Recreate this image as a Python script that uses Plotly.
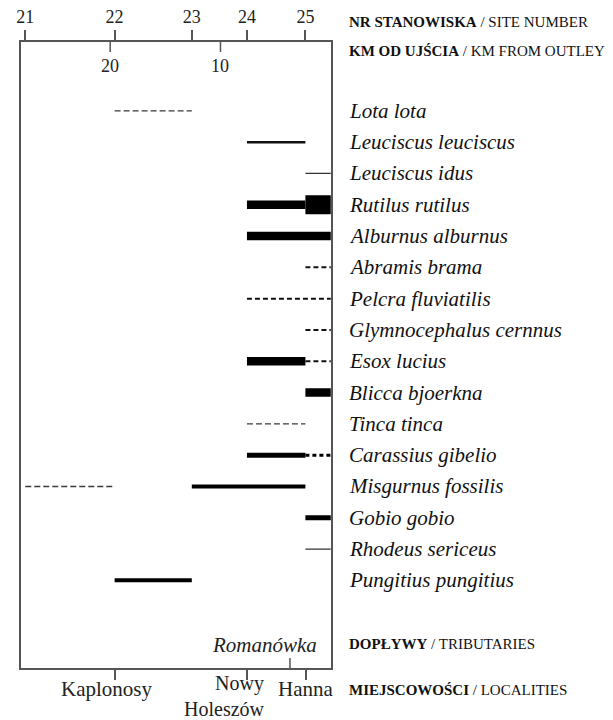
import plotly.graph_objects as go

# ---------------- data ----------------
SPECIES = [
    "Lota lota", "Leuciscus leuciscus", "Leuciscus idus", "Rutilus rutilus",
    "Alburnus alburnus", "Abramis brama", "Pelcra fluviatilis",
    "Glymnocephalus cernnus", "Esox lucius", "Blicca bjoerkna", "Tinca tinca",
    "Carassius gibelio", "Misgurnus fossilis", "Gobio gobio",
    "Rhodeus sericeus", "Pungitius pungitius",
]

SITE_NUMBERS = [21, 22, 23, 24, 25]
SITE_KM = [27.7, 19.6, 12.6, 7.6, 2.3]          # km from outlet of each site
OUTLET_KM = 0.0                                   # "U" = river mouth
KM_TICKS = [20, 10]

LOCALITIES = ["Kaplonosy", "Nowy<br>Holeszów", "Hanna"]
LOCALITY_KM = [19.55, 7.6, 2.25]
TRIBUTARY = "Romanówka"
TRIBUTARY_KM = 3.7

# segments: species, from site, to site ("U" = outlet), abundance class
SEG_SPECIES = ["Lota lota", "Leuciscus leuciscus", "Leuciscus idus",
               "Rutilus rutilus", "Rutilus rutilus", "Alburnus alburnus",
               "Abramis brama", "Pelcra fluviatilis", "Glymnocephalus cernnus",
               "Esox lucius", "Esox lucius", "Blicca bjoerkna", "Tinca tinca",
               "Carassius gibelio", "Carassius gibelio",
               "Misgurnus fossilis", "Misgurnus fossilis", "Gobio gobio",
               "Rhodeus sericeus", "Pungitius pungitius"]
SEG_FROM = [22, 24, 25, 24, 25, 24, 25, 24, 25, 24, 25, 25, 24, 24, 25, 21, 23, 25, 25, 22]
SEG_TO = [23, 25, "U", 25, "U", "U", "U", "U", "U", 25, "U", "U", 25, 25, "U", 22, 25, "U", "U", 23]
SEG_CLASS = ["sporadic", "few", "single", "common", "abundant", "common",
             "rare", "rare", "rare", "common", "rare", "common", "sporadic",
             "moderate_plus", "rare_plus", "sporadic", "moderate", "moderate_plus",
             "single", "moderate"]

# ---------------- styles ----------------
STYLE = {
    "sporadic":      dict(width=1.4, dash="6px,3px", color="#3a3a3a"),
    "rare":          dict(width=2.0, dash="5px,3px", color="#111111"),
    "rare_plus":     dict(width=3.0, dash="4px,3px", color="#000000"),
    "single":        dict(width=1.2, dash="solid", color="#333333"),
    "few":           dict(width=2.5, dash="solid", color="#111111"),
    "moderate":      dict(width=4.0, dash="solid", color="#000000"),
    "moderate_plus": dict(width=5.0, dash="solid", color="#000000"),
    "common":        dict(width=8.5, dash="solid", color="#000000"),
    "abundant":      dict(width=19.0, dash="solid", color="#000000"),
}

W, H = 613, 720
L, R, T, B = 16, 329, 42, 668          # frame in px
FRAME = "#555555"
SERIF = "Liberation Serif, Times New Roman, serif"

site_km = dict(zip(SITE_NUMBERS, SITE_KM))
site_km["U"] = OUTLET_KM
row = {s: i for i, s in enumerate(SPECIES)}

fig = go.Figure()
for sp, a, b, c in zip(SEG_SPECIES, SEG_FROM, SEG_TO, SEG_CLASS):
    st = STYLE[c]
    fig.add_trace(go.Scatter(
        x=[site_km[a], site_km[b]], y=[row[sp], row[sp]], mode="lines",
        line=dict(width=st["width"], dash=st["dash"], color=st["color"]),
        showlegend=False, hoverinfo="skip", xaxis="x", yaxis="y"))

# invisible trace for top axis
fig.add_trace(go.Scatter(x=[SITE_KM[0]], y=[0], mode="markers", opacity=0,
                         showlegend=False, hoverinfo="skip", xaxis="x2", yaxis="y"))

px_x = lambda p: p / W
px_y = lambda p: (H - p) / H

xr = [28.1, -0.05]
fig.update_layout(
    width=W, height=H, margin=dict(l=0, r=0, t=0, b=0),
    paper_bgcolor="white", plot_bgcolor="white",
    font=dict(family=SERIF, color="#111"),
    xaxis=dict(domain=[px_x(L), px_x(R)], range=xr, showgrid=False, zeroline=False,
               showline=True, mirror=True, linecolor=FRAME, linewidth=2,
               tickmode="array", tickvals=LOCALITY_KM, ticktext=[""] * len(LOCALITY_KM),
               ticks="outside", ticklen=10, tickwidth=1.5, tickcolor=FRAME,
               showticklabels=False),
    xaxis2=dict(domain=[px_x(L), px_x(R)], range=xr, overlaying="x", side="top",
                anchor="y", showgrid=False, zeroline=False, showline=False,
                tickmode="array", tickvals=SITE_KM, ticktext=[str(s) for s in SITE_NUMBERS],
                ticks="outside", ticklen=11, tickwidth=1.5, tickcolor=FRAME,
                tickfont=dict(family=SERIF, size=18, color="#222")),
    yaxis=dict(domain=[px_y(B), px_y(T)], range=[17.8, -2.2], showgrid=False,
               zeroline=False, showline=True, mirror=True, linecolor=FRAME,
               linewidth=2, showticklabels=False, ticks=""),
)

shapes = []
ann = []
# km ticks pointing inward from the top frame
for k in KM_TICKS:
    shapes.append(dict(type="line", xref="x", yref="paper", x0=k, x1=k,
                       y0=px_y(T), y1=px_y(T + 10), line=dict(color=FRAME, width=1.5)))
    ann.append(dict(xref="x", yref="paper", x=k, y=px_y(66), text=str(k),
                    showarrow=False, font=dict(size=18, color="#222"),
                    xanchor="center", yanchor="middle"))
# tributary tick pointing inward from bottom frame
shapes.append(dict(type="line", xref="x", yref="paper", x0=TRIBUTARY_KM, x1=TRIBUTARY_KM,
                   y0=px_y(B), y1=px_y(B - 10), line=dict(color=FRAME, width=1.5)))
ann.append(dict(xref="x", yref="paper", x=TRIBUTARY_KM, y=px_y(645), text=TRIBUTARY,
                showarrow=False, xanchor="right", xshift=29,
                font=dict(size=21, color="#222", style="italic"), yanchor="middle"))

# locality labels (single-line ones centred on tick, two-line one right-aligned)
ann.append(dict(xref="x", yref="paper", x=LOCALITY_KM[0], y=px_y(689), text=LOCALITIES[0],
                showarrow=False, xanchor="center", yanchor="middle", xshift=-9,
                font=dict(size=21, color="#222")))
ann.append(dict(xref="x", yref="paper", x=LOCALITY_KM[1], y=0, text=LOCALITIES[1],
                showarrow=False, xanchor="right", yanchor="bottom", xshift=19,
                align="right", height=46, borderpad=0, valign="middle",
                font=dict(size=20, color="#222")))
ann.append(dict(xref="x", yref="paper", x=LOCALITY_KM[2], y=px_y(689), text=LOCALITIES[2],
                showarrow=False, xanchor="center", yanchor="middle",
                font=dict(size=21, color="#222")))

# species labels
for i, s in enumerate(SPECIES):
    ann.append(dict(xref="paper", yref="y", x=px_x(345), y=i, text=s, showarrow=False,
                    xanchor="left", yanchor="middle",
                    font=dict(size=21, color="#111", style="italic")))

# header / footer labels
HEADERS = [("NR STANOWISKA", "SITE NUMBER", 22),
           ("KM OD UJŚCIA", "KM FROM OUTLEY", 51),
           ("DOPŁYWY", "TRIBUTARIES", 644),
           ("MIEJSCOWOŚCI", "LOCALITIES", 690)]
for pl, en, yy in HEADERS:
    ann.append(dict(xref="paper", yref="paper", x=px_x(345), y=px_y(yy),
                    text=f"<b>{pl}</b> / {en}", showarrow=False,
                    xanchor="left", yanchor="middle", font=dict(size=15, color="#111")))

fig.update_layout(shapes=shapes, annotations=ann)
fig.write_html("out.html", config={"displayModeBar": False},
               post_script="document.body.style.margin='0';document.body.style.overflow='hidden';")
